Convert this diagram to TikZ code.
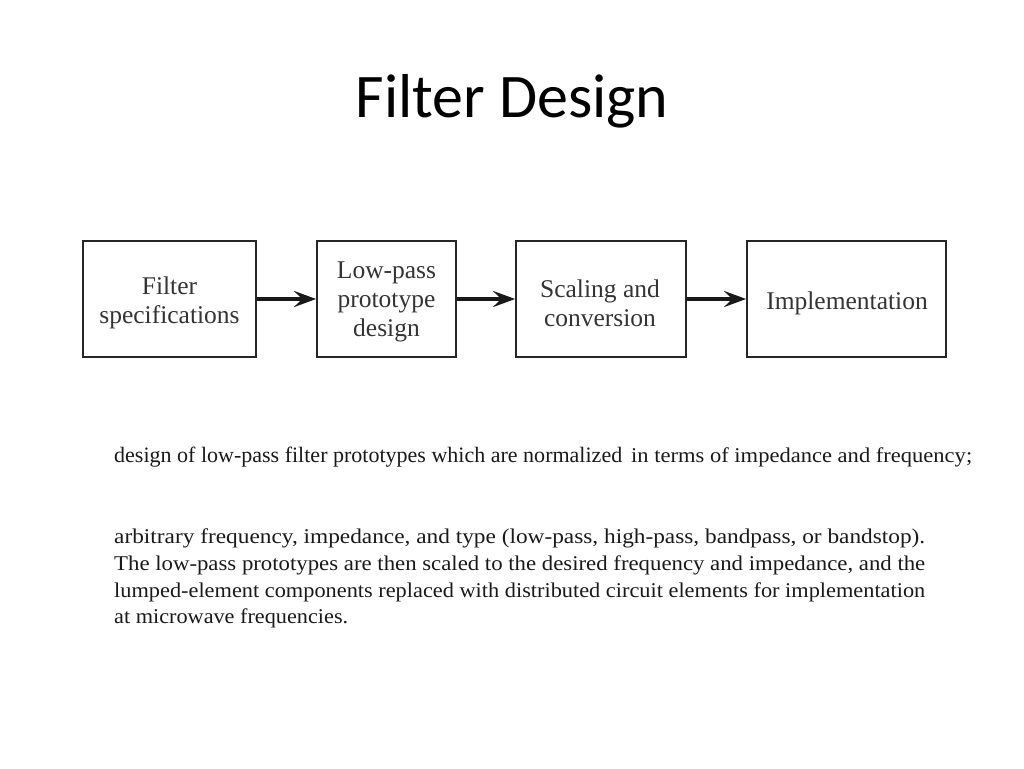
\documentclass[tikz,border=0pt]{standalone}
\usepackage{fontspec}
\setmainfont{Liberation Serif}
\newfontfamily\titlefont{Carlito}
\usetikzlibrary{arrows.meta}
\tikzset{
  blk/.style={draw=black!85, line width=1.8pt, minimum height=116pt, inner sep=0pt},
  lbl/.style={inner sep=0pt, align=center, font=\fontsize{25.5}{29}\selectfont, text=black!80},
  flow/.style={line width=3.6pt, draw=black!90, -{Stealth[length=22pt,width=16pt,inset=8pt]}},
  para/.style={anchor=base west, inner sep=0pt, text=black!90},
}
\begin{document}
\begin{tikzpicture}[x=1pt,y=-1pt]
\useasboundingbox (0,0) rectangle (1024,768);
\node[font=\titlefont\fontsize{62}{70}\selectfont, text=black, anchor=base] (title) at (512,117) {Filter Design};

\node[blk, minimum width=173pt] (b1) at (169.5,299) {};
\node[blk, minimum width=139pt] (b2) at (386.5,299) {};
\node[blk, minimum width=170pt] (b3) at (601,299) {};
\node[blk, minimum width=199pt] (b4) at (846.5,299) {};

\node[lbl] (t1) at (169.5,303) {Filter\\specifications};
\node[lbl] (t2) at (386.5,302) {Low-pass\\prototype\\design};
\node[lbl] (t3) at (600,303) {Scaling and\\conversion};
\node[lbl] (t4) at (847,303) {Implementation};

\draw[flow] (b1.east) -- (b2.west);
\draw[flow] (b2.east) -- (b3.west);
\draw[flow] (b3.east) -- (b4.west);

\node[para] (p0a) at (114,462) {\resizebox{508pt}{\height}{\fontsize{22}{26}\selectfont design of low-pass filter prototypes which are normalized}};
\node[para] (p0b) at (631,462) {\resizebox{341pt}{\height}{\fontsize{21}{26}\selectfont in terms of impedance and frequency;}};

\node[para] (p1) at (114,543) {\resizebox{811pt}{\height}{\fontsize{21}{26}\selectfont arbitrary frequency, impedance, and type (low-pass, high-pass, bandpass, or bandstop).}};
\node[para] (p2) at (114,570) {\resizebox{811pt}{\height}{\fontsize{21}{26}\selectfont The low-pass prototypes are then scaled to the desired frequency and impedance, and the}};
\node[para] (p3) at (114,597) {\resizebox{811pt}{\height}{\fontsize{21}{26}\selectfont lumped-element components replaced with distributed circuit elements for implementation}};
\node[para] (p4) at (114,623) {\resizebox{234pt}{\height}{\fontsize{21}{26}\selectfont at microwave frequencies.}};
\end{tikzpicture}
\end{document}
